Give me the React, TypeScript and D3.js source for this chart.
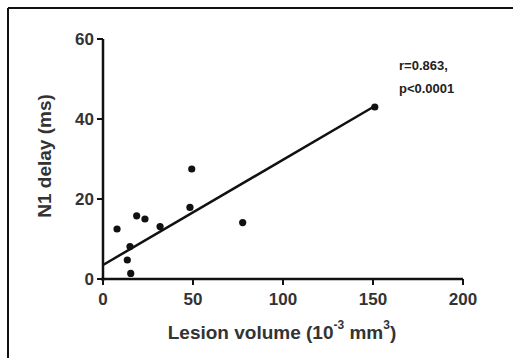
import React from 'react';
import * as d3 from 'd3';

// lesion volume (10^-3 mm^3) vs N1 delay (ms)
const volumes = [7.8, 15.4, 13.5, 15, 18.7, 23.3, 31.7, 48.3, 49.3, 77.6, 151];
const delays = [12.5, 1.4, 4.75, 8.1, 15.8, 15, 13.1, 17.9, 27.5, 14.1, 43];

// regression line ends
const fitX = [0, 152];
const fitY = [3.5, 43.5];

const xTicks = [0, 50, 100, 150, 200];
const yTicks = [0, 20, 40, 60];
const statLines = ['r=0.863,', 'p<0.0001'];

const font = '"Liberation Sans", Arial, sans-serif';

const App = () => {
  const x = d3.scaleLinear().domain([0, 200]).range([103, 463]);
  const y = d3.scaleLinear().domain([0, 60]).range([279, 39]);

  const line = d3
    .line<number>()
    .x((d) => x(d))
    .y((_, i) => y(fitY[i]));

  return (
    <svg
      width={513}
      height={358}
      style={{ position: 'absolute', left: 0, top: 0, background: '#fff' }}
    >
      {/* frame (only top and left edges are visible) */}
      <line x1={8} y1={8} x2={513} y2={8} stroke="#111" strokeWidth={2} />
      <line x1={8} y1={8} x2={8} y2={358} stroke="#111" strokeWidth={2} />

      {/* axes */}
      <line x1={x(0)} y1={y(60)} x2={x(0)} y2={y(0) + 2} stroke="#111" strokeWidth={2.5} />
      <line x1={x(0) - 2} y1={y(0)} x2={x(200)} y2={y(0)} stroke="#111" strokeWidth={2.5} />

      {yTicks.map((t) => (
        <g key={'y' + t}>
          <line x1={x(0) - 6} x2={x(0)} y1={y(t)} y2={y(t)} stroke="#111" strokeWidth={2} />
          <text
            x={x(0) - 9}
            y={y(t)}
            textAnchor="end"
            dominantBaseline="central"
            fontFamily={font}
            fontWeight="bold"
            fontSize={17}
            fill="#333"
          >
            {t}
          </text>
        </g>
      ))}

      {xTicks.map((t) => (
        <g key={'x' + t}>
          <line x1={x(t)} x2={x(t)} y1={y(0)} y2={y(0) + 6} stroke="#111" strokeWidth={2} />
          <text
            x={x(t)}
            y={y(0) + 20}
            textAnchor="middle"
            dominantBaseline="central"
            fontFamily={font}
            fontWeight="bold"
            fontSize={17}
            fill="#333"
          >
            {t}
          </text>
        </g>
      ))}

      {/* regression line */}
      <path d={line(fitX) || ''} fill="none" stroke="#111" strokeWidth={2.5} />

      {/* points */}
      {volumes.map((v, i) => (
        <circle key={i} cx={x(v)} cy={y(delays[i])} r={3.6} fill="#111" />
      ))}

      {/* stats */}
      {statLines.map((s, i) => (
        <text
          key={s}
          x={399}
          y={65 + i * 23}
          dominantBaseline="central"
          fontFamily={font}
          fontWeight="bold"
          fontSize={13}
          fill="#222"
        >
          {s}
        </text>
      ))}

      {/* axis titles */}
      <text
        transform={`translate(44, 156) rotate(-90)`}
        textAnchor="middle"
        dominantBaseline="central"
        fontFamily={font}
        fontWeight="bold"
        fontSize={19}
        fill="#333"
      >
        N1 delay (ms)
      </text>
      <text
        x={282}
        y={332}
        textAnchor="middle"
        dominantBaseline="central"
        fontFamily={font}
        fontWeight="bold"
        fontSize={19}
        fill="#333"
      >
        Lesion volume (10
        <tspan baselineShift="super" fontSize={12}>-3</tspan>
        <tspan> mm</tspan>
        <tspan baselineShift="super" fontSize={12}>3</tspan>
        <tspan>)</tspan>
      </text>
    </svg>
  );
};

export default App;
